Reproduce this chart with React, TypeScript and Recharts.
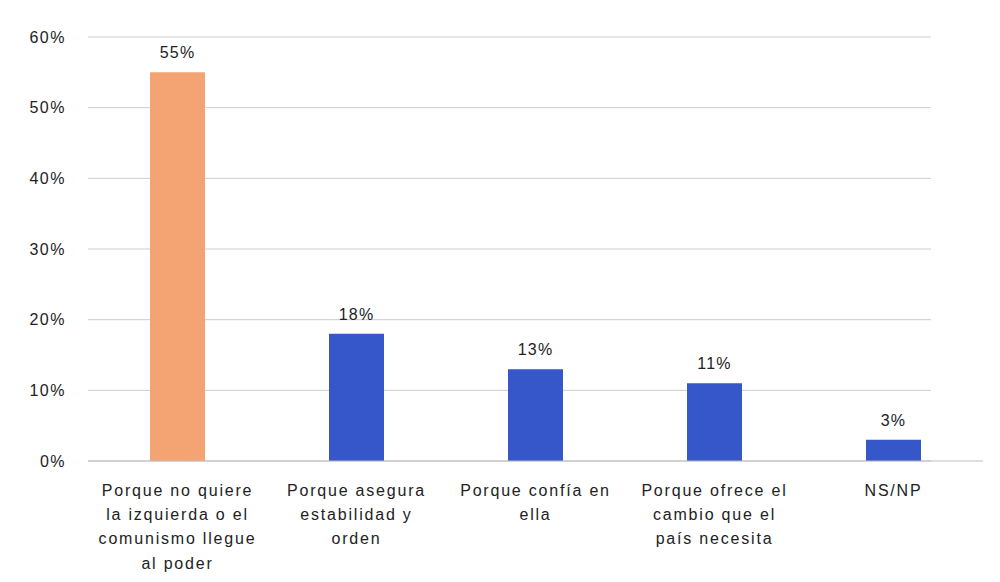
import React from 'react';
import { BarChart, Bar, XAxis, YAxis, CartesianGrid, Cell, LabelList } from 'recharts';

const categories = [
  'Porque no quiere la izquierda o el comunismo llegue al poder',
  'Porque asegura estabilidad y orden',
  'Porque confía en ella',
  'Porque ofrece el cambio que el país necesita',
  'NS/NP',
];

const tickLines = [
  ['Porque no quiere', 'la izquierda o el', 'comunismo llegue', 'al poder'],
  ['Porque asegura', 'estabilidad y', 'orden'],
  ['Porque confía en', 'ella'],
  ['Porque ofrece el', 'cambio que el', 'país necesita'],
  ['NS/NP'],
];

const values = [55, 18, 13, 11, 3];
const barColors = ['#F4A472', '#3557C9', '#3557C9', '#3557C9', '#3557C9'];
const yTicks = [0, 10, 20, 30, 40, 50, 60];

const data = categories.map((name, i) => ({ name, value: values[i], idx: i }));

const FONT = 'Liberation Sans, Arial, sans-serif';

const MultiLineTick = ({ x, y, payload }: any) => {
  const lines = tickLines[payload.index] || [payload.value];
  return (
    <text x={x} y={y} textAnchor="middle" fill="#222" fontSize={16} letterSpacing={1.8} fontFamily={FONT}>
      {lines.map((l, i) => (
        <tspan key={i} x={x} dy={i === 0 ? 27 : 24.2}>{l}</tspan>
      ))}
    </text>
  );
};

const GridLine = (props: any) => {
  const { x1, x2, y1, y2 } = props;
  return <line x1={x1} x2={x2 - 52} y1={y1} y2={y2} stroke="#cccccc" strokeWidth={1} />;
};

export default function App() {
  return (
    <div style={{ position: 'absolute', left: 0, top: 0, width: 1000, height: 582, background: '#fff' }}>
      <BarChart
        width={1000}
        height={582}
        data={data}
        margin={{ top: 37, right: 17, bottom: 0, left: 0 }}
        barCategoryGap="0%"
      >
        <CartesianGrid vertical={false} horizontal={GridLine} />
        <XAxis
          dataKey="name"
          interval={0}
          tick={<MultiLineTick />}
          tickLine={false}
          axisLine={{ stroke: '#bdbdbd' }}
          height={121}
        />
        <YAxis
          domain={[0, 60]}
          ticks={yTicks}
          width={88}
          tickFormatter={(v) => `${v}%`}
          tick={{ fill: '#222', fontSize: 16, fontFamily: FONT, letterSpacing: 1.5 }}
          tickLine={false}
          axisLine={false}
          tickSize={0}
          tickMargin={22}
        />
        <Bar dataKey="value" barSize={55} isAnimationActive={false}>
          {data.map((d) => (
            <Cell key={d.idx} fill={barColors[d.idx]} />
          ))}
          <LabelList
            dataKey="value"
            position="top"
            offset={14}
            formatter={(v: any) => `${v}%`}
            style={{ fill: '#222', fontSize: 16, fontFamily: FONT, letterSpacing: 1.2 }}
          />
        </Bar>
      </BarChart>
    </div>
  );
}
